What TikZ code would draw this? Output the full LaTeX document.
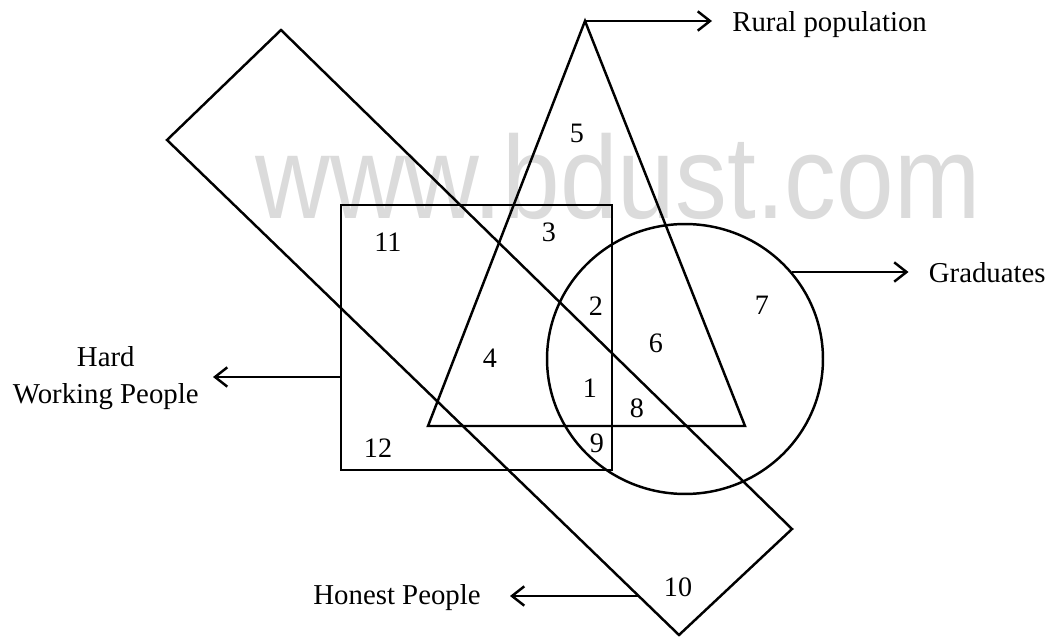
\documentclass[tikz,border=0pt]{standalone}
\usepackage{fontspec}
\setmainfont{Liberation Serif}
\newfontfamily\wmfont{Liberation Sans}
\usetikzlibrary{arrows.meta, calc}

\begin{document}
\begin{tikzpicture}[
    x = 0.02cm, y = -0.02cm,
    outline/.style = {line width = 1.4pt, line join = miter},
    num/.style = {font = \fontsize{16}{19}\selectfont, inner sep = 0pt},
    lbl/.style = {font = \fontsize{16.4}{21}\selectfont, inner sep = 0pt, align = center},
    arr/.style = {-{Straight Barb[length = 7pt, width = 11pt]}, line width = 1.4pt},
    wmark/.style = {font = \wmfont\fontsize{67}{70}\selectfont, text = black!14, inner sep = 0pt}
  ]
  \useasboundingbox (0,0) rectangle (1051,638);

  % ---- watermark ----
  \node[wmark] (wm) at (618,176) {\scalebox{0.88}[1]{www.bdust.com}};

  % ---- corner points ----
  \coordinate (rtop)   at (281,30);
  \coordinate (rright) at (792,529);
  \coordinate (rbot)   at (679,635);
  \coordinate (rleft)  at (167,140);

  \coordinate (apex)  at (585,21);
  \coordinate (tleft) at (428,426);
  \coordinate (trght) at (745,426);

  \coordinate (sqnw) at (341,205);
  \coordinate (sqse) at (612,470);

  \coordinate (cc) at (685,359);

  % ---- shapes ----
  \draw[outline] (rtop) -- (rright) -- (rbot) -- (rleft) -- cycle;
  \draw[outline] (apex) -- (trght) -- (tleft) -- cycle;
  \draw[outline] (sqnw) rectangle (sqse);
  \draw[outline] (cc) ellipse [x radius = 2.76cm, y radius = 2.70cm];

  % ---- region numbers ----
  \node[num] (n1)  at (590,388) {1};
  \node[num] (n2)  at (596,306) {2};
  \node[num] (n3)  at (549,232) {3};
  \node[num] (n4)  at (490,358) {4};
  \node[num] (n5)  at (577,133) {5};
  \node[num] (n6)  at (656,343) {6};
  \node[num] (n7)  at (762,305) {7};
  \node[num] (n8)  at (637,408) {8};
  \node[num] (n9)  at (597,443) {9};
  \node[num] (n10) at (678,587) {10};
  \node[num] (n11) at (388,242) {11};
  \node[num] (n12) at (378,448) {12};

  % ---- labels ----
  \node[lbl, anchor = west] (rural)  at (732,25)  {Rural population};
  \node[lbl, anchor = east] (grad)   at (1046,273) {Graduates};
  \node[lbl, anchor = east] (hard)   at (199,378) {Hard\\Working People};
  \node[lbl, anchor = east] (honest) at (481,598) {Honest People};

  % ---- arrows ----
  \coordinate (gradpt)   at (792,272);
  \coordinate (hardpt)   at (341,377);
  \coordinate (honestpt) at (638,596);

  \draw[arr, shorten >= 0.4cm]  (apex) -- (apex -| rural.west);
  \draw[arr, shorten >= 0.4cm]  (gradpt) -- (gradpt -| grad.west);
  \draw[arr, shorten >= 0.28cm] (hardpt) -- (hardpt -| hard.east);
  \draw[arr, shorten >= 0.58cm] (honestpt) -- (honestpt -| honest.east);

\end{tikzpicture}
\end{document}
